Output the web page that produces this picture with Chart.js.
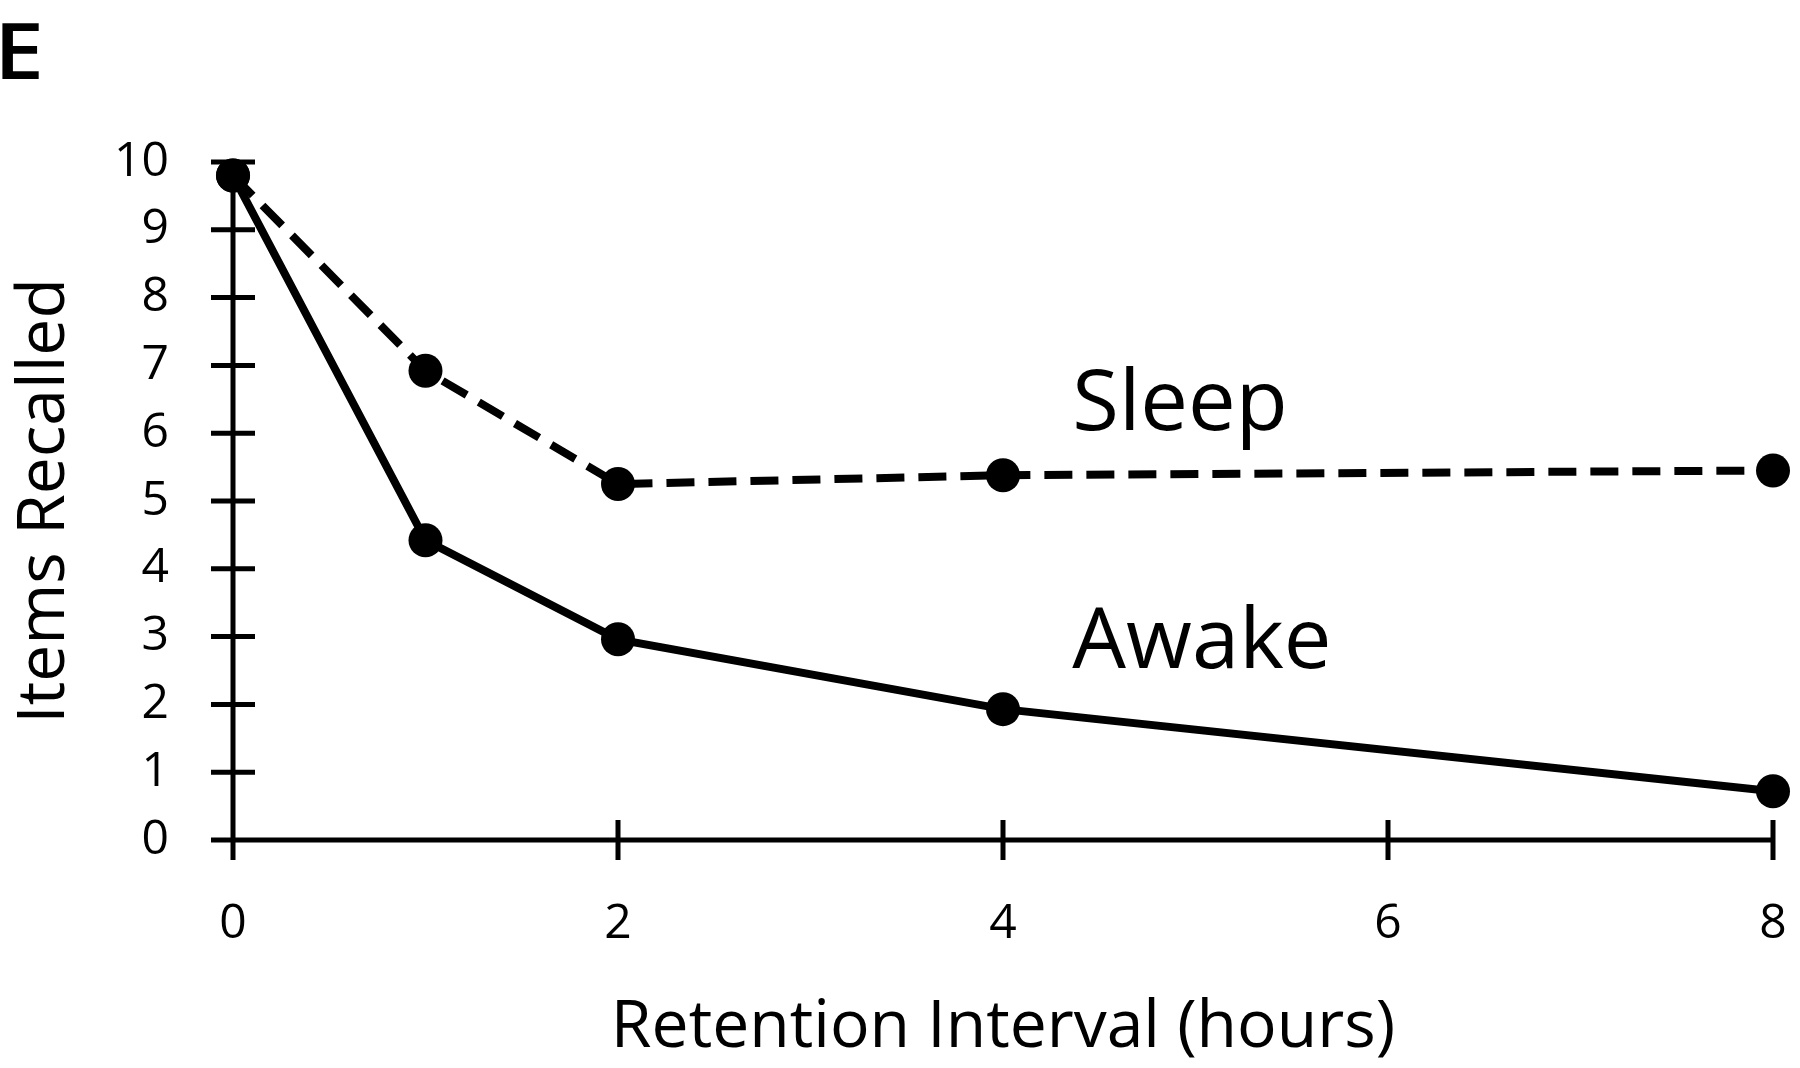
<!DOCTYPE html>
<html>
<head>
<meta charset="utf-8">
<script src="https://cdn.jsdelivr.net/npm/chart.js@4.4.1/dist/chart.umd.min.js"></script>
<style>
  html, body { margin: 0; padding: 0; background: #fff; }
  canvas { display: block; }
</style>
</head>
<body>
<canvas id="recallChart" width="1800" height="1068"></canvas>
<script>
// Retention data (hours vs items recalled)
const hours = [0, 1, 2, 4, 8];
const sleepRecall = [9.8, 6.92, 5.25, 5.38, 5.45];
const awakeRecall = [9.8, 4.42, 2.96, 1.93, 0.72];
const xTicks = [0, 2, 4, 6, 8];
const yTicks = [0, 1, 2, 3, 4, 5, 6, 7, 8, 9, 10];

// text labels placed on the plot
const panelLetter = 'E';
const seriesLabels = [
    { text: 'Sleep', x: 4.36, y: 6.05 },
    { text: 'Awake', x: 4.36, y: 2.54 }
];

const FONT = "'Open Sans', 'DejaVu Sans', sans-serif";
const toPoints = (ys) => hours.map((h, i) => ({ x: h, y: ys[i] }));

// axis lines with ticks crossing both sides, plus the text labels
const axisLines = {
    id: 'axisLines',
    beforeDatasetsDraw(chart) {
        const { ctx, scales: { x, y } } = chart;
        const x0 = x.getPixelForValue(xTicks[0]);
        const x1 = x.getPixelForValue(xTicks[xTicks.length - 1]);
        const y0 = y.getPixelForValue(yTicks[0]);
        const y1 = y.getPixelForValue(yTicks[yTicks.length - 1]);
        ctx.save();
        ctx.strokeStyle = '#000';
        ctx.lineWidth = 5;
        ctx.beginPath();
        ctx.moveTo(x0, y0); ctx.lineTo(x1, y0);
        ctx.moveTo(x0, y0); ctx.lineTo(x0, y1);
        yTicks.forEach(v => {
            const p = y.getPixelForValue(v);
            ctx.moveTo(x0 - 22, p); ctx.lineTo(x0 + 22, p);
        });
        xTicks.forEach(v => {
            const p = x.getPixelForValue(v);
            ctx.moveTo(p, y0 - 20); ctx.lineTo(p, y0 + 20);
        });
        ctx.stroke();
        ctx.restore();
    },
    afterDraw(chart) {
        const { ctx, scales: { x, y } } = chart;
        ctx.save();
        ctx.fillStyle = '#000';
        ctx.textBaseline = 'alphabetic';
        ctx.textAlign = 'left';
        // panel letter, a bit wider than the font gives
        ctx.save();
        ctx.translate(-6, 79);
        ctx.scale(1.15, 1);
        ctx.font = `600 78px ${FONT}`;
        ctx.fillText(panelLetter, 0, 0);
        ctx.restore();
        ctx.font = `85px ${FONT}`;
        seriesLabels.forEach(l => {
            ctx.fillText(l.text, x.getPixelForValue(l.x), y.getPixelForValue(l.y));
        });
        ctx.restore();
    }
};

function renderRecallChart() {
    const canvas = document.getElementById('recallChart');
    const ctx = canvas.getContext('2d');

    new Chart(ctx, {
        type: 'line',
        data: {
            datasets: [
                {
                    label: 'Awake',
                    data: toPoints(awakeRecall),
                    borderColor: '#000',
                    borderWidth: 8,
                    pointRadius: 17,
                    pointBackgroundColor: '#000',
                    pointBorderWidth: 0,
                    tension: 0,
                    clip: false
                },
                {
                    label: 'Sleep',
                    data: toPoints(sleepRecall),
                    borderColor: '#000',
                    borderWidth: 8,
                    borderDash: [28, 14],
                    pointRadius: 17,
                    pointBackgroundColor: '#000',
                    pointBorderWidth: 0,
                    tension: 0,
                    clip: false
                }
            ]
        },
        options: {
            responsive: false,
            animation: false,
            events: [],
            layout: { padding: { top: 162, right: 27, left: 0, bottom: 0 } },
            plugins: {
                legend: { display: false },
                tooltip: { enabled: false }
            },
            scales: {
                x: {
                    type: 'linear',
                    min: xTicks[0],
                    max: xTicks[xTicks.length - 1],
                    afterBuildTicks: (s) => { s.ticks = xTicks.map(v => ({ value: v })); },
                    afterFit: (s) => { s.height = 228; s.paddingLeft = 0; s.paddingRight = 0; },
                    grid: { display: false, drawTicks: false },
                    border: { display: false },
                    ticks: {
                        color: '#000',
                        padding: 56,
                        maxRotation: 0,
                        font: { family: FONT, size: 48 }
                    },
                    title: {
                        display: true,
                        text: 'Retention Interval (hours)',
                        color: '#000',
                        padding: { top: 0, bottom: 0 },
                        font: { family: FONT, size: 66 }
                    }
                },
                y: {
                    min: yTicks[0],
                    max: yTicks[yTicks.length - 1],
                    afterBuildTicks: (s) => { s.ticks = yTicks.map(v => ({ value: v })); },
                    afterFit: (s) => { s.width = 233; s.paddingTop = 0; s.paddingBottom = 0; },
                    grid: { display: false, drawTicks: false },
                    border: { display: false },
                    ticks: {
                        color: '#000',
                        padding: 64,
                        font: { family: FONT, size: 48 }
                    },
                    title: {
                        display: true,
                        text: 'Items Recalled',
                        color: '#000',
                        padding: { top: 6, bottom: 0 },
                        font: { family: FONT, size: 66 }
                    }
                }
            }
        },
        plugins: [axisLines]
    });
}

document.addEventListener('DOMContentLoaded', renderRecallChart);
</script>
</body>
</html>
